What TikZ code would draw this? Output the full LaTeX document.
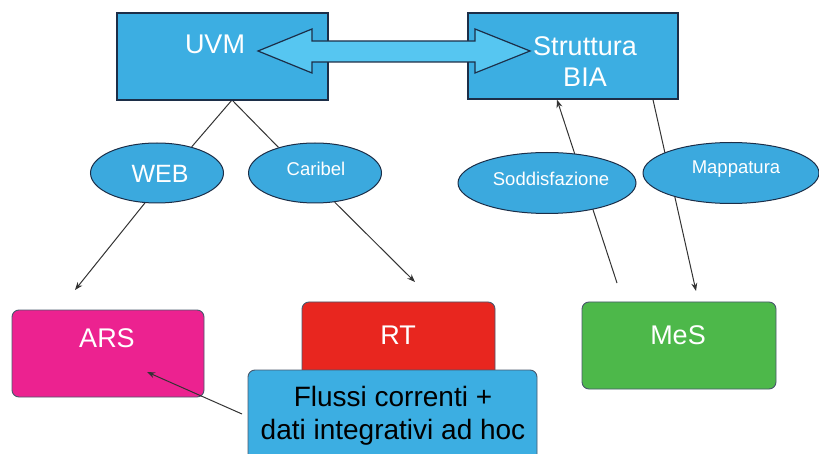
\documentclass[tikz,border=0pt]{standalone}
\usepackage{fontspec}
\setmainfont{Liberation Sans}
\usetikzlibrary{shapes.geometric,arrows.meta,backgrounds}
\definecolor{boxblue}{HTML}{3CAEE2}
\definecolor{ellblue}{HTML}{3BA9DE}
\definecolor{arrblue}{HTML}{56C6F1}
\definecolor{navy}{HTML}{1C2E48}
\definecolor{arsmag}{HTML}{EC2290}
\definecolor{rtred}{HTML}{E8261F}
\definecolor{mesgreen}{HTML}{4DB84A}
\definecolor{conn}{HTML}{333333}
\tikzset{
  topbox/.style={draw=navy, line width=1.4pt, fill=boxblue, rectangle, inner sep=0pt},
  botbox/.style={draw=navy!80, line width=0.9pt, rectangle, rounded corners=7pt, inner sep=0pt},
  ell/.style={draw=navy, line width=1pt, fill=ellblue, ellipse, inner sep=0pt},
  wtxt/.style={text=white, inner sep=0pt},
  conline/.style={draw=conn, line width=1pt},
  conarrow/.style={draw=conn, line width=1pt, -{Stealth[length=8pt,width=6pt]}},
}
\begin{document}
\begin{tikzpicture}[x=1pt,y=-1pt]
\useasboundingbox (0,0) rectangle (819,454);
\clip (0,0) rectangle (819,454);
% top boxes
\node[topbox, minimum width=211pt, minimum height=87pt] (uvm) at (222.5,56.5) {};
\node[topbox, minimum width=210pt, minimum height=86pt] (bia) at (573,56) {};
% ellipses
\node[ell, minimum width=133pt, minimum height=60pt] (web) at (157,173) {};
\node[ell, minimum width=133pt, minimum height=60pt] (car) at (315,173) {};
\node[ell, minimum width=178pt, minimum height=61pt] (sod) at (547,183) {};
\node[ell, minimum width=176pt, minimum height=61pt] (map) at (731,173) {};
\node[wtxt, font=\fontsize{25}{25}\selectfont] (webt) at (160,174) {WEB};
\node[wtxt, font=\fontsize{18.5}{18.5}\selectfont] (cart) at (316,169) {Caribel};
\node[wtxt, font=\fontsize{18.5}{18.5}\selectfont] (sodt) at (551,179) {Soddisfazione};
\node[wtxt, font=\fontsize{18.5}{18.5}\selectfont] (mapt) at (736,169) {Mappatura};
% free ends
\coordinate (u) at (232,100);
\coordinate (a0) at (75,290);
\coordinate (r0) at (415,282);
\coordinate (s0) at (617,283);
\coordinate (m1) at (696,291);
\coordinate (f0) at (242,414);
\coordinate (a1) at (147,372);
% connectors behind ellipses
\begin{scope}[on background layer]
\draw[conline] (u) -- (web.37);
\draw[conline] (u) -- (car.145);
\draw[conarrow] (web.-112) -- (a0);
\draw[conarrow] (car.-56) -- (r0);
\draw[conarrow] (s0) -- ([xshift=-16pt]bia.south);
\draw[conarrow] ([xshift=80pt]bia.south) -- (m1);
\end{scope}
% double arrow
\draw[draw=navy, line width=1.2pt, fill=arrblue, line join=miter]
  (258,51) -- (312,29) -- (312,41) -- (475,41) -- (475,29) -- (530,51)
  -- (475,73) -- (475,62) -- (312,62) -- (312,73) -- cycle;
\node[wtxt, font=\fontsize{27}{27}\selectfont] (uvmt) at (215,44) {UVM};
\node[wtxt, font=\fontsize{27}{27}\selectfont] (biat1) at (585,46) {Struttura};
\node[wtxt, font=\fontsize{27}{27}\selectfont] (biat2) at (585,77) {BIA};
% bottom boxes
\node[botbox, fill=arsmag, minimum width=192pt, minimum height=87pt] (ars) at (108,353.5) {};
\node[botbox, fill=rtred, minimum width=193pt, minimum height=90pt] (rt) at (398.5,347) {};
\node[botbox, fill=mesgreen, minimum width=194pt, minimum height=87pt] (mes) at (679,345.5) {};
\node[botbox, fill=boxblue, minimum width=289pt, minimum height=110pt] (flussi) at (392.5,425) {};
\node[wtxt, font=\fontsize{27}{27}\selectfont] (arst) at (107,338) {ARS};
\node[wtxt, font=\fontsize{27}{27}\selectfont] (rtt) at (398,335) {RT};
\node[wtxt, font=\fontsize{27}{27}\selectfont] (mest) at (678,335) {MeS};
\node[inner sep=0pt, text=black, font=\fontsize{28}{33}\selectfont, align=center] (flt) at (393,416) {Flussi correnti +\\dati integrativi ad hoc};
\draw[conarrow] (f0) -- (a1);
\end{tikzpicture}
\end{document}
